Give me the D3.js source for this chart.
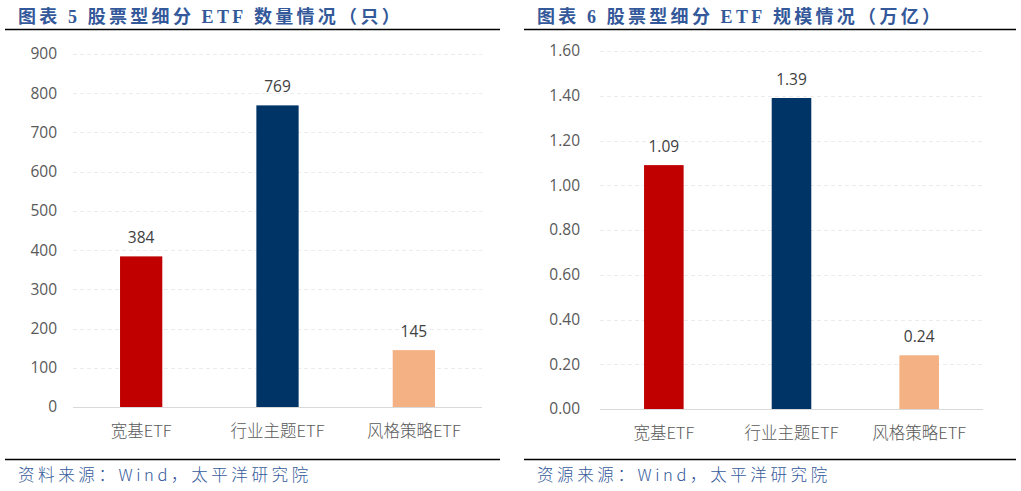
<!DOCTYPE html>
<html>
<head>
<meta charset="utf-8">
<script src="https://cdn.jsdelivr.net/npm/d3@7"></script>
<style>
  body { margin: 0; background: #fff; }
  svg { display: block; }
</style>
</head>
<body>
<div id="chart"></div>
<script>
// data
var categories = ["宽基ETF", "行业主题ETF", "风格策略ETF"];
var countValues = [384, 769, 145];
var scaleValues = [1.09, 1.39, 0.24];
var countTicks = [0, 100, 200, 300, 400, 500, 600, 700, 800, 900];
var scaleTicks = [0, 0.2, 0.4, 0.6, 0.8, 1.0, 1.2, 1.4, 1.6];
var barColors = ["#C00000", "#003366", "#F4B183"];

var svg = d3.select("#chart")
            .append("svg")
            .attr("width", 1021)
            .attr("height", 491);

var titleColor = "#34599A";

function panel(opt) {
  var g = svg.append("g");

  // title
  var t = g.append("text")
    .attr("x", opt.titleX)
    .attr("y", 23)
    .attr("fill", titleColor)
    .attr("font-size", 18)
    .attr("letter-spacing", 3.3);
  opt.title.forEach(function(p) {
    t.append("tspan")
      .attr("font-family", p.latin ? "'Liberation Serif', serif" : "'Noto Sans CJK SC', sans-serif")
      .attr("font-weight", "bold")
      .text(p.s);
  });

  // rules
  g.append("line")
    .attr("x1", opt.ruleX0).attr("x2", opt.ruleX1)
    .attr("y1", 29.5).attr("y2", 29.5)
    .attr("stroke", "#000").attr("stroke-width", 1.3);
  g.append("line")
    .attr("x1", opt.ruleX0).attr("x2", opt.ruleX1)
    .attr("y1", 459.5).attr("y2", 459.5)
    .attr("stroke", "#000").attr("stroke-width", 1.3);

  // source
  g.append("text")
    .attr("x", opt.titleX)
    .attr("y", 481)
    .attr("fill", titleColor)
    .attr("font-size", 16.5)
    .attr("letter-spacing", 3.6)
    .attr("font-family", "'Noto Sans CJK SC', sans-serif")
    .attr("font-weight", 300)
    .text(opt.source);

  var x = d3.scaleBand()
    .domain(categories)
    .range([opt.left, opt.right])
    .paddingInner(0.69)
    .paddingOuter(0.345);

  var y = d3.scaleLinear()
    .domain([0, opt.ticks[opt.ticks.length - 1]])
    .range([opt.bottom, opt.top]);

  // gridlines
  g.selectAll(".grid")
    .data(opt.ticks.filter(function(d) { return d > 0; }))
    .enter().append("line")
    .attr("x1", opt.left).attr("x2", opt.right)
    .attr("y1", function(d) { return Math.round(y(d)) + 0.5; })
    .attr("y2", function(d) { return Math.round(y(d)) + 0.5; })
    .attr("stroke", "#ECECEC")
    .attr("stroke-dasharray", "4,3");

  // y axis labels
  var yAxis = d3.axisLeft(y).tickValues(opt.ticks).tickFormat(opt.fmt).tickSize(0).tickPadding(0);
  var ya = g.append("g")
    .attr("transform", "translate(" + opt.labelX + ",0)")
    .call(yAxis);
  ya.select(".domain").remove();
  ya.selectAll("text")
    .attr("fill", "#595959")
    .attr("font-size", 15.5)
    .attr("font-family", "'Open Sans', 'Noto Sans', sans-serif");

  // bars
  g.selectAll(".bar")
    .data(opt.values)
    .enter().append("rect")
    .attr("x", function(d, i) { return x(categories[i]); })
    .attr("width", x.bandwidth())
    .attr("y", function(d) { return y(d); })
    .attr("height", function(d) { return y(0) - y(d); })
    .attr("fill", function(d, i) { return barColors[i]; });

  // baseline
  g.append("line")
    .attr("x1", opt.left).attr("x2", opt.right)
    .attr("y1", Math.round(y(0)) + 0.5).attr("y2", Math.round(y(0)) + 0.5)
    .attr("stroke", "#D9D9D9").attr("stroke-width", 1.2);

  // value labels
  g.selectAll(".val")
    .data(opt.values)
    .enter().append("text")
    .attr("x", function(d, i) { return x(categories[i]) + x.bandwidth() / 2; })
    .attr("y", function(d) { return y(d) - 13; })
    .attr("text-anchor", "middle")
    .attr("fill", "#404040")
    .attr("font-size", 15.5)
    .attr("font-family", "'Open Sans', 'Noto Sans', sans-serif")
    .text(function(d) { return opt.fmt(d); });

  // x axis labels
  var xAxis = d3.axisBottom(x).tickSize(0).tickPadding(0);
  var xa = g.append("g")
    .attr("transform", "translate(0," + (opt.bottom + 18) + ")")
    .call(xAxis);
  xa.select(".domain").remove();
  xa.selectAll("text")
    .attr("fill", "#595959")
    .attr("font-size", 16.5)
    .attr("font-family", "'Noto Sans CJK SC', sans-serif")
    .attr("font-weight", 300);
}

panel({
  title: [{s: "图表 "}, {s: "5", latin: true}, {s: " 股票型细分 "}, {s: "ETF", latin: true}, {s: " 数量情况（只）"}],
  source: "资料来源：Wind，太平洋研究院",
  titleX: 18, ruleX0: 5, ruleX1: 500,
  left: 73, right: 482, top: 54, bottom: 407, labelX: 57,
  values: countValues, ticks: countTicks,
  fmt: d3.format("d")
});

panel({
  title: [{s: "图表 "}, {s: "6", latin: true}, {s: " 股票型细分 "}, {s: "ETF", latin: true}, {s: " 规模情况（万亿）"}],
  source: "资源来源：Wind，太平洋研究院",
  titleX: 537, ruleX0: 524, ruleX1: 1016,
  left: 600, right: 983, top: 51, bottom: 409, labelX: 580,
  values: scaleValues, ticks: scaleTicks,
  fmt: d3.format(".2f")
});
</script>
</body>
</html>
